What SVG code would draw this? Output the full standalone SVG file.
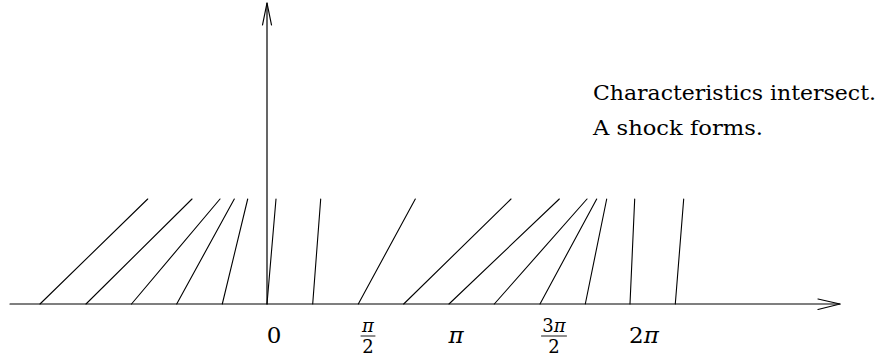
<svg xmlns="http://www.w3.org/2000/svg" width="881" height="358" viewBox="0 0 881 358">
<style>
.ln{stroke:#000;stroke-width:1.1;fill:none;stroke-linecap:round}
.ax{stroke:#000;stroke-width:1.2;fill:none;stroke-linecap:round;stroke-linejoin:round}
text{font-family:'DejaVu Serif','Liberation Serif',serif;fill:#000}
.lab{font-size:23px;text-anchor:middle}
.fr{font-size:18px;text-anchor:middle}
.pi{font-style:italic}
.note{font-size:20.5px}
</style>
<rect width="881" height="358" fill="#fff"/>
<g id="axes">
<line class="ax" x1="10" y1="304" x2="840" y2="304"/>
<polyline class="ax" points="818,299 840,304 818,309.5"/>
<line class="ax" x1="267" y1="304" x2="267" y2="3"/>
<polyline class="ax" points="262.5,25 267,3 271.5,25"/>
</g>
<g id="characteristics">
<line class="ln" x1="40" y1="304" x2="147.7" y2="199"/>
<line class="ln" x1="86" y1="304" x2="192" y2="199"/>
<line class="ln" x1="131.5" y1="304" x2="220" y2="199"/>
<line class="ln" x1="176.7" y1="304" x2="234.3" y2="199"/>
<line class="ln" x1="222.3" y1="304" x2="247.7" y2="199"/>
<line class="ln" x1="267" y1="304" x2="276" y2="199"/>
<line class="ln" x1="312.7" y1="304" x2="320.7" y2="199"/>
<line class="ln" x1="358.3" y1="304" x2="415.3" y2="199"/>
<line class="ln" x1="403.7" y1="304" x2="511" y2="199"/>
<line class="ln" x1="449" y1="304" x2="559.3" y2="199"/>
<line class="ln" x1="494.3" y1="304" x2="587" y2="199"/>
<line class="ln" x1="540" y1="304" x2="596.7" y2="199"/>
<line class="ln" x1="585.3" y1="304" x2="606.7" y2="199"/>
<line class="ln" x1="630" y1="304" x2="634.7" y2="199"/>
<line class="ln" x1="675.3" y1="304" x2="683.7" y2="199"/>
</g>
<g id="labels">
<text class="lab" x="274" y="343">0</text>
<text class="fr pi" x="368" y="332">π</text>
<line class="ln" x1="361" y1="336" x2="375" y2="336" style="stroke-width:0.9"/>
<text class="fr" x="368" y="353">2</text>
<text class="lab pi" x="456" y="343">π</text>
<text class="fr" x="554" y="332">3<tspan class="pi">π</tspan></text>
<line class="ln" x1="541.5" y1="336" x2="566.5" y2="336" style="stroke-width:0.9"/>
<text class="fr" x="554" y="353">2</text>
<text class="lab" x="644" y="343">2<tspan class="pi">π</tspan></text>
</g>
<g id="note">
<text class="note" x="593" y="99.5" textLength="283" lengthAdjust="spacingAndGlyphs">Characteristics intersect.</text>
<text class="note" x="593" y="135" textLength="170" lengthAdjust="spacingAndGlyphs">A shock forms.</text>
</g>
</svg>
